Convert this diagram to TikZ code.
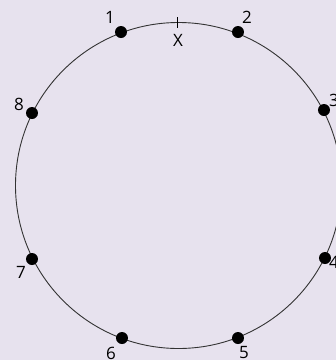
\documentclass[tikz,border=0pt]{standalone}
\usepackage{fontspec}
\setmainfont{Open Sans}
\definecolor{bg}{RGB}{231,226,238}
\begin{document}
\begin{tikzpicture}[x=1pt,y=-1pt,
  dot/.style={circle,fill=black,inner sep=0pt,minimum size=12pt},
  lbl/.style={inner sep=0pt,font=\fontsize{17}{19}\selectfont}]
\fill[bg] (0,0) rectangle (336,360);
\useasboundingbox (0,0) rectangle (336,360);
\node[draw=black!80,line width=0.9pt,circle,minimum size=326pt,inner sep=0pt] (c) at (178.5,185.5) {};
\node[dot] (d1) at (121,32) {};
\node[dot] (d2) at (238,32) {};
\node[dot] (d3) at (324,110) {};
\node[dot] (d4) at (325,258) {};
\node[dot] (d5) at (238,338) {};
\node[dot] (d6) at (122,338) {};
\node[dot] (d7) at (32,259) {};
\node[dot] (d8) at (32,113) {};
\coordinate (xt) at (178,17);
\coordinate (xb) at (178,28);
\draw[line width=1pt] (xt) -- (xb);
\node[lbl] (lx) at (178,40) {X};
\node[lbl] (l1) at (110,17) {1};
\node[lbl] (l2) at (247,17) {2};
\node[lbl] (l3) at (334,100) {3};
\node[lbl] (l4) at (334,262) {4};
\node[lbl] (l5) at (244,353) {5};
\node[lbl] (l6) at (111,353) {6};
\node[lbl] (l7) at (21,272) {7};
\node[lbl] (l8) at (19,104) {8};
\end{tikzpicture}
\end{document}
